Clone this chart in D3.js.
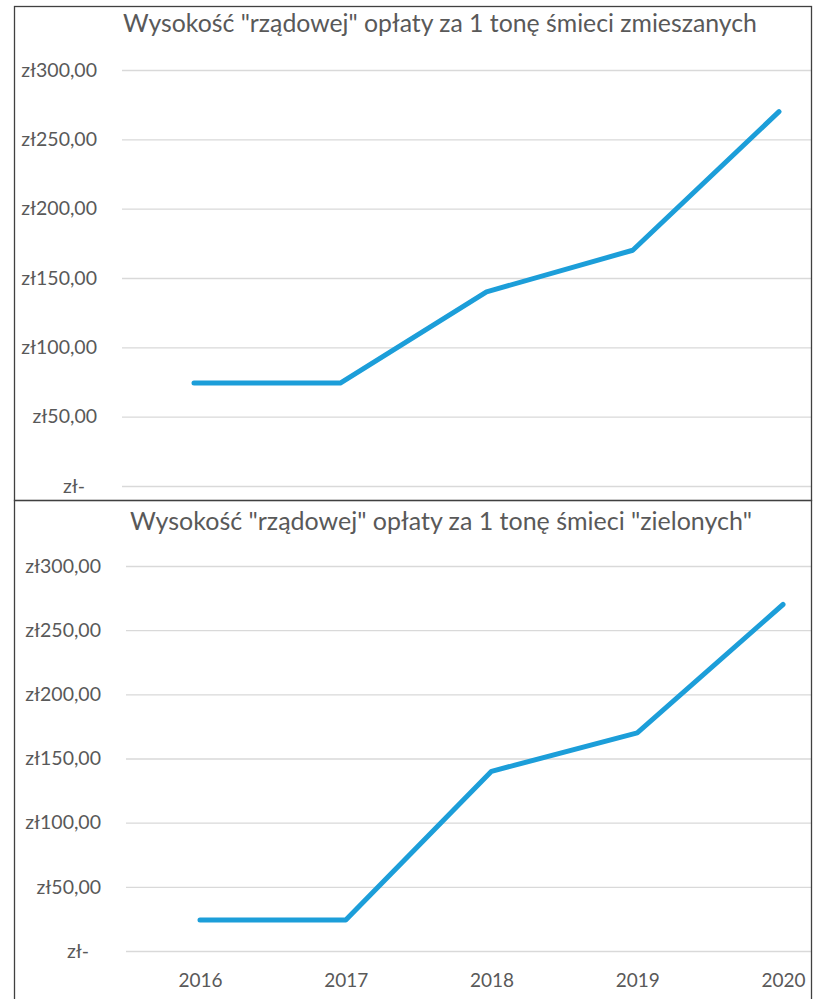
<!DOCTYPE html>
<html>
<head>
<meta charset="utf-8">
<script src="https://cdn.jsdelivr.net/npm/d3@7"></script>
<style>
  html, body { margin: 0; padding: 0; background: #fff; }
  svg { display: block; }
  text { font-family: Lato, "Open Sans", sans-serif; fill: #595959; }
</style>
</head>
<body>
<svg id="chart" width="821" height="999"></svg>
<script>
// ---- data ----
const years = ["2016", "2017", "2018", "2019", "2020"];
const mixedFee = [74.26, 74.26, 140, 170, 270];
const greenFee = [24.15, 24.15, 140, 170, 270];
const yTicks = [0, 50, 100, 150, 200, 250, 300];
const titleMixed = 'Wysokość "rządowej" opłaty za 1 tonę śmieci zmieszanych';
const titleGreen = 'Wysokość "rządowej" opłaty za 1 tonę śmieci "zielonych"';

const plLocale = d3.formatLocale({ decimal: ",", thousands: " ", grouping: [3], currency: ["zł", ""] });
const fmt = plLocale.format(",.2f");
const tickFmt = d => d === 0 ? "zł-" : "zł" + fmt(d);

const svg = d3.select("#chart");
const lineColor = "#1c9ed9";

const panels = [
  { id: "a", title: titleMixed, values: mixedFee, frame: { x0: 14, y0: 6, x1: 811, y1: 500 },
    plotLeft: 122, yBottom: 486, yTop: 70, xFirst: 194, xLast: 779, titleY: 32, titleX: 440, showX: false },
  { id: "b", title: titleGreen, values: greenFee, frame: { x0: 14, y0: 500, x1: 811, y1: 1010 },
    plotLeft: 126, yBottom: 951, yTop: 566, xFirst: 200, xLast: 783, titleY: 530, titleX: 441, showX: true }
];

// fit a text element's font size to a target width
function fitText(sel, targetW, base) {
  sel.style("font-size", base + "px");
  const w = sel.node().getComputedTextLength();
  sel.style("font-size", (base * targetW / w).toFixed(2) + "px");
}

panels.forEach(p => {
  const g = svg.append("g");
  const f = p.frame;
  g.append("clipPath").attr("id", "clip-" + p.id)
    .append("rect").attr("x", f.x0).attr("y", f.y0).attr("width", f.x1 - f.x0).attr("height", f.y1 - f.y0);
  const inner = g.append("g").attr("clip-path", "url(#clip-" + p.id + ")");

  const x = d3.scalePoint().domain(years).range([p.xFirst, p.xLast]);
  const y = d3.scaleLinear().domain([0, 300]).range([p.yBottom, p.yTop]);

  // y axis with gridlines
  const yAxis = d3.axisLeft(y).tickValues(yTicks).tickFormat(tickFmt)
    .tickSizeInner(-(f.x1 - p.plotLeft)).tickSizeOuter(0).tickPadding(25);
  const ya = inner.append("g").attr("transform", `translate(${p.plotLeft},0)`).call(yAxis);
  ya.select(".domain").remove();
  ya.selectAll(".tick line").attr("stroke", "#d9d9d9").attr("stroke-width", 1.3);
  ya.selectAll(".tick text").attr("fill", "#595959").style("font-family", "Lato, sans-serif")
    .style("font-size", "19.5px")
    .attr("dx", d => d === 0 ? -12 : 0);

  // x axis
  if (p.showX) {
    const xAxis = d3.axisBottom(x).tickSize(0).tickPadding(23);
    const xa = inner.append("g").attr("transform", `translate(0,${p.yBottom})`).call(xAxis);
    xa.select(".domain").remove();
    xa.selectAll(".tick text").attr("fill", "#595959").style("font-family", "Lato, sans-serif")
      .style("font-size", "19px");
  }

  // line
  const line = d3.line().x((d, i) => x(years[i])).y(d => y(d));
  inner.append("path").datum(p.values)
    .attr("d", line)
    .attr("fill", "none")
    .attr("stroke", lineColor)
    .attr("stroke-width", 5)
    .attr("stroke-linecap", "round")
    .attr("stroke-linejoin", "round");

  // title
  const t = inner.append("text").attr("x", p.titleX).attr("y", p.titleY)
    .attr("text-anchor", "middle").attr("fill", "#5f5f5f").text(p.title);
  fitText(t, p.id === "a" ? 634 : 622, 22);

  // frame
  g.append("rect").attr("x", f.x0 + 0.5).attr("y", f.y0 + 0.5)
    .attr("width", f.x1 - f.x0).attr("height", f.y1 - f.y0)
    .attr("fill", "none").attr("stroke", "#404040").attr("stroke-width", 1.3);
});
</script>
</body>
</html>
